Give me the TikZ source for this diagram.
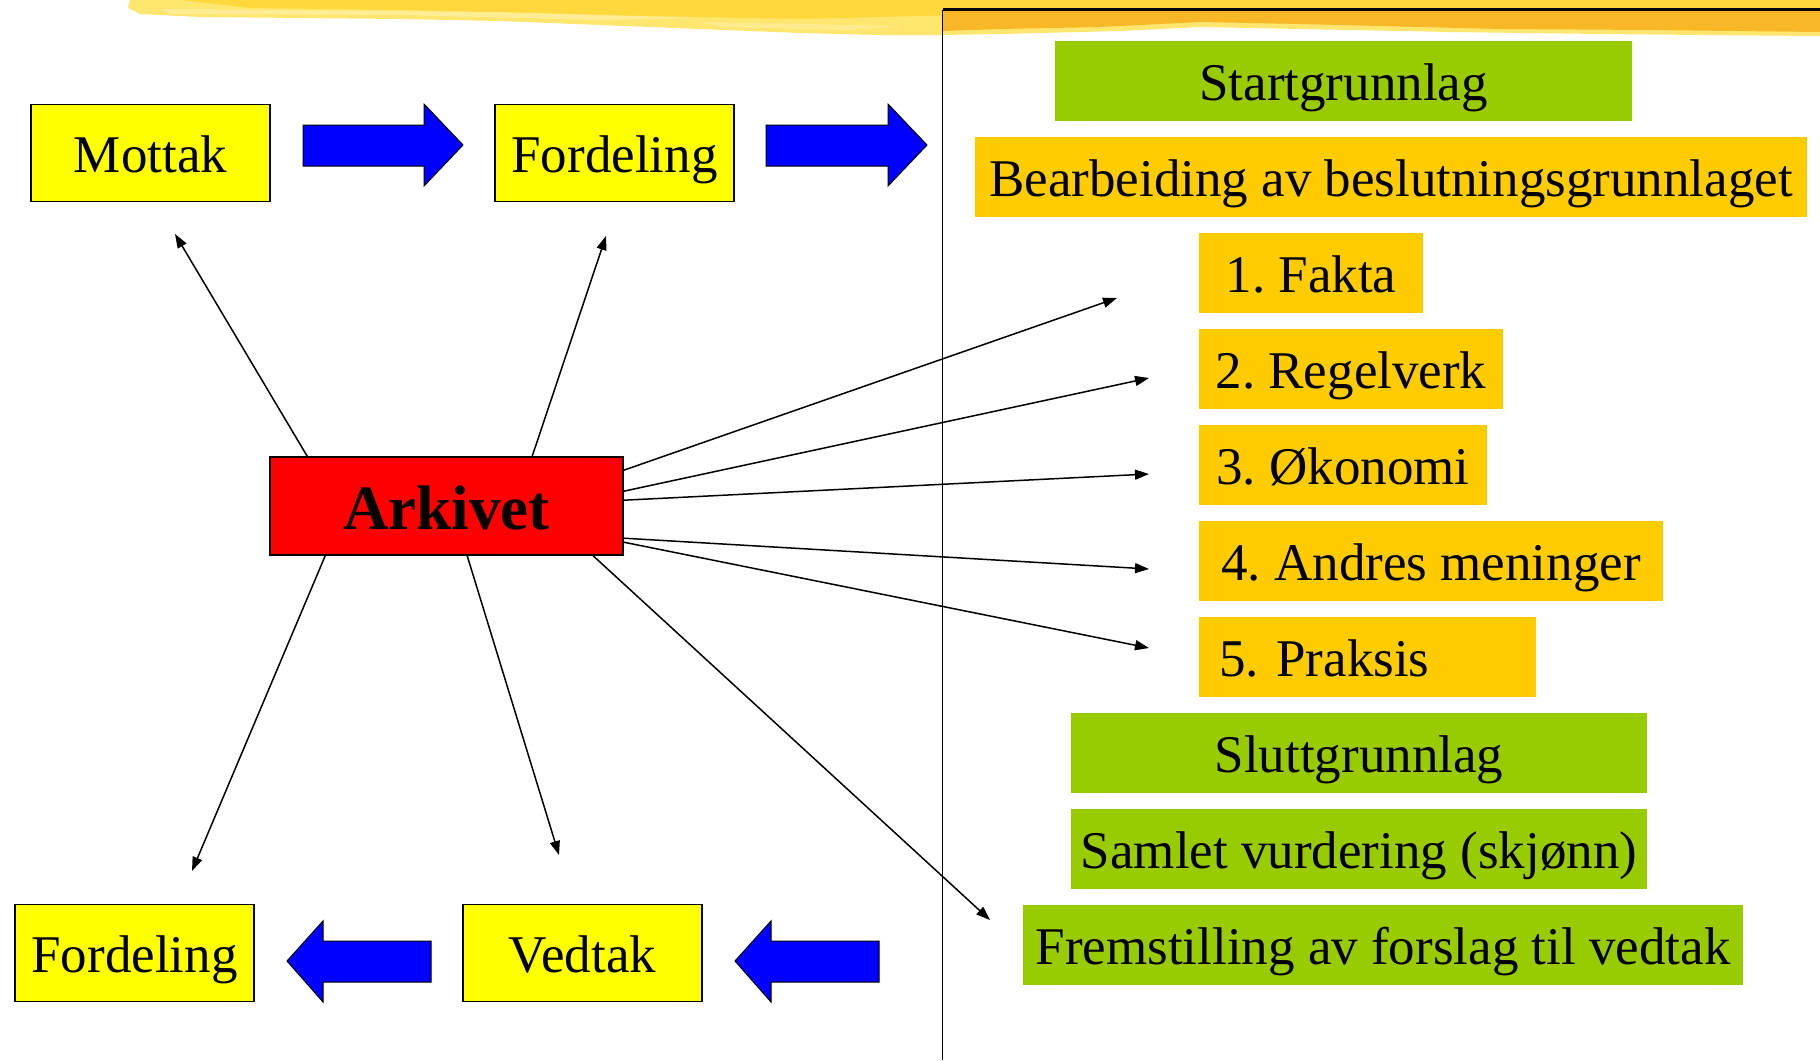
\documentclass[tikz,border=0pt]{standalone}
\usepackage{fontspec}
\setmainfont{Liberation Serif}
\usetikzlibrary{arrows.meta,calc}
\definecolor{boxyellow}{HTML}{FFFF00}
\definecolor{boxgreen}{HTML}{99CC00}
\definecolor{boxorange}{HTML}{FFCC00}
\definecolor{arrowblue}{HTML}{0000FF}
\definecolor{brushA}{HTML}{FFE66E}
\definecolor{brushB}{HTML}{FFD83E}
\definecolor{brushC}{HTML}{F7B726}
\definecolor{brushD}{HTML}{FFF3B0}
\frenchspacing
\begin{document}
\begin{tikzpicture}[x=0.5pt,y=-0.5pt,
  txt/.style={font=\fontsize{26.5}{30}\selectfont, text height=19.6pt, text depth=0pt, inner sep=0pt},
  ybox/.style={txt, draw=black, line width=0.8pt, fill=boxyellow, minimum width=119.5pt, minimum height=48.5pt},
  gbox/.style={txt, fill=boxgreen, minimum height=40.3pt},
  obox/.style={txt, fill=boxorange, minimum height=40.3pt},
  link/.style={line width=0.75pt, -{Triangle[length=7pt,width=5pt]}},
  blockarrow/.style={draw=black, line width=0.5pt, fill=arrowblue, line join=miter},
]
\useasboundingbox (0,0) rectangle (1820,1060);
\fill[white] (0,0) rectangle (1820,1060);

% brush stroke at the top
\fill[brushA] (130,0) -- (1820,0) -- (1820,36) -- (1700,35) -- (1600,34) -- (1450,32) -- (1300,29) -- (1200,27) -- (1120,31) -- (1000,34) -- (942,35) -- (880,35) -- (800,33) -- (700,29) -- (600,25) -- (500,21) -- (400,19) -- (300,18) -- (200,17) -- (140,14) -- (128,8) -- cycle;
\fill[brushB] (180,0) -- (1820,0) -- (1820,10) -- (1400,12) -- (1000,14) -- (800,19) -- (600,15) -- (400,10) -- (250,8) -- cycle;
\fill[brushD, opacity=0.6] (160,9) -- (500,12) -- (700,18) -- (600,20) -- (400,15) -- (170,14) -- cycle;
\fill[brushD, opacity=0.5] (700,22) -- (900,26) -- (850,30) -- (720,27) -- cycle;
\fill[brushC] (942,11) -- (1820,11) -- (1820,32) -- (1650,30) -- (1500,29) -- (1300,24) -- (1200,22) -- (1100,27) -- (1000,29) -- (942,31) -- cycle;
\fill[brushB] (1250,0) -- (1820,0) -- (1820,8) -- (1250,8) -- cycle;

% frame lines
\draw[line width=1.2pt] (942.5,9.5) -- (1820,9.5);
\draw[line width=0.8pt] (942.5,9.5) -- (942.5,1060);

% left flow boxes
\node[ybox] (mottak) at (150.5,153) {Mottak};
\node[ybox] (fordA) at (614.5,153) {Fordeling};
\node[ybox] (fordB) at (134.5,953) {Fordeling};
\node[ybox] (vedtak) at (582.5,953) {Vedtak};

% block arrows
\draw[blockarrow] (303,125) -- (424,125) -- (424,104) -- (463,145) -- (424,186) -- (424,166) -- (303,166) -- cycle;
\draw[blockarrow] (766,125) -- (888,125) -- (888,104) -- (927,145) -- (888,186) -- (888,166) -- (766,166) -- cycle;
\draw[blockarrow] (431,941) -- (323,941) -- (323,921) -- (287,961) -- (323,1002) -- (323,982) -- (431,982) -- cycle;
\draw[blockarrow] (879,941) -- (771,941) -- (771,921) -- (735,961) -- (771,1002) -- (771,982) -- (879,982) -- cycle;

% archive
\node[draw=black, line width=0.8pt, fill=red, inner sep=0pt, minimum width=176.5pt, minimum height=49pt,
      font=\fontsize{31.5}{36}\selectfont\bfseries, text height=23.3pt, text depth=0pt] (ark) at (446.5,506) {Arkivet};

% right column
\node[gbox, minimum width=288.5pt] (start) at (1343.5,81) {Startgrunnlag};
\node[obox, minimum width=416pt] (bearb) at (1391,177) {Bearbeiding av beslutningsgrunnlaget};
\node[obox, minimum width=112pt] (fakta) at (1311,273) {1. Fakta};
\node[obox, minimum width=152pt] (regel) at (1351,369) {2. Regelverk};
\node[obox, minimum width=144pt] (okon) at (1343,465) {3. Økonomi};
\node[obox, minimum width=232pt] (andres) at (1431,561) {4. Andres meninger};
\node[obox, inner xsep=10pt, text width=148.5pt, align=left] (praksis) at (1367.5,657) {5. Praksis};
\node[gbox, minimum width=288pt] (slutt) at (1359,753) {Sluttgrunnlag};
\node[gbox, minimum width=288pt] (samlet) at (1359,849) {Samlet vurdering (skjønn)};
\node[gbox, minimum width=360pt] (fremst) at (1383,945) {Fremstilling av forslag til vedtak};

% arrow tips (free ends)
\coordinate (tMottak) at (175,234);
\coordinate (tFordA) at (606,236);
\coordinate (tFakta) at (1117,298);
\coordinate (tRegel) at (1149,378);
\coordinate (tOkon) at (1149,474);
\coordinate (tAndres) at (1149,569);
\coordinate (tPraksis) at (1149,648);
\coordinate (tFremst) at (990,920);
\coordinate (tFordB) at (192,871);
\coordinate (tVedtak) at (559,855);

\draw[link] ($(ark.north west)+(38,0)$) -- (tMottak);
\draw[link] ($(ark.north west)+(263,0)$) -- (tFordA);
\draw[link] ($(ark.north east)+(0,14)$) -- (tFakta);
\draw[link] ($(ark.north east)+(0,35)$) -- (tRegel);
\draw[link] ($(ark.north east)+(0,44)$) -- (tOkon);
\draw[link] ($(ark.north east)+(0,82)$) -- (tAndres);
\draw[link] ($(ark.north east)+(0,86)$) -- (tPraksis);
\draw[link] ($(ark.south west)+(324,0)$) -- (tFremst);
\draw[link] ($(ark.south west)+(56,0)$) -- (tFordB);
\draw[link] ($(ark.south west)+(198,0)$) -- (tVedtak);
\end{tikzpicture}
\end{document}
